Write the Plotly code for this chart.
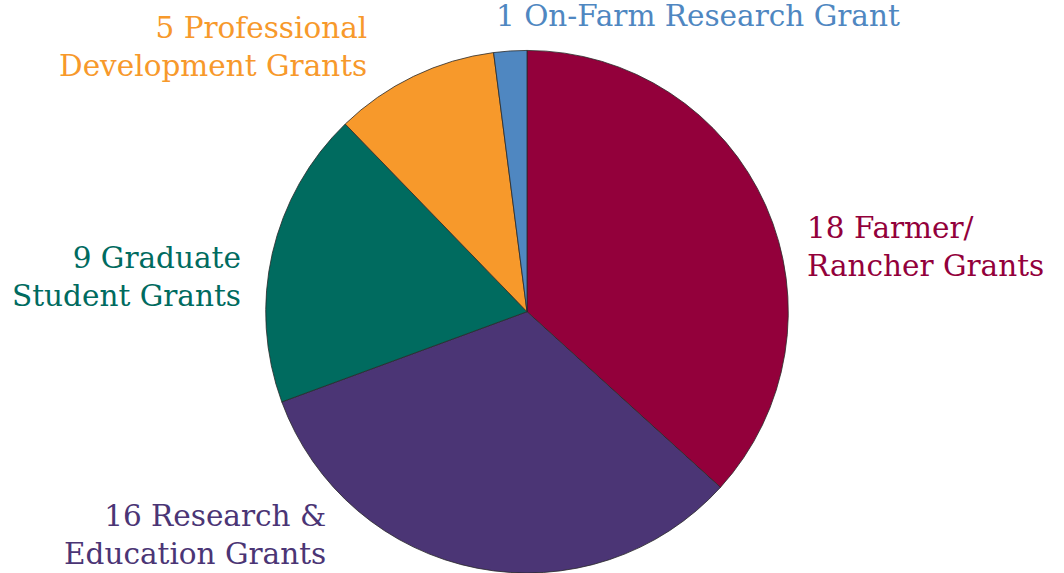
import plotly.graph_objects as go

W, H = 1064, 573

categories = ["Farmer/<br>Rancher Grants", "Research &<br>Education Grants",
              "Graduate<br>Student Grants", "Professional<br>Development Grants",
              "On-Farm Research Grant"]
values = [18, 16, 9, 5, 1]
colors = ["#93003B", "#4B3575", "#006B5F", "#F7992B", "#4F87C1"]

# label placement (pixels: x, y-center, anchor)
label_pos = [(805, 247, "left"), (328, 535, "right"), (243, 277, "right"),
             (369, 47, "right"), (494, 16, "left")]

fig = go.Figure(go.Pie(
    labels=categories, values=values, sort=False, direction="clockwise",
    rotation=0, textinfo="none", hoverinfo="label+value",
    marker=dict(colors=colors, line=dict(color="#2a2a2a", width=0.8)),
    domain=dict(x=[265 / W, 789 / W], y=[0, 0.912]),
    showlegend=False,
))

annotations = []
for cat, v, col, (px, py, anc) in zip(categories, values, colors, label_pos):
    annotations.append(dict(
        text=f"{v} {cat}", x=px / W, y=1 - py / H, xref="paper", yref="paper",
        xanchor=anc, yanchor="middle", align=anc, showarrow=False,
        font=dict(family="DejaVu Serif", size=29.5, color=col),
    ))

fig.update_layout(
    width=W, height=H, margin=dict(l=0, r=0, t=0, b=0),
    paper_bgcolor="white", plot_bgcolor="white",
    annotations=annotations,
)
fig.write_html("out.html")
